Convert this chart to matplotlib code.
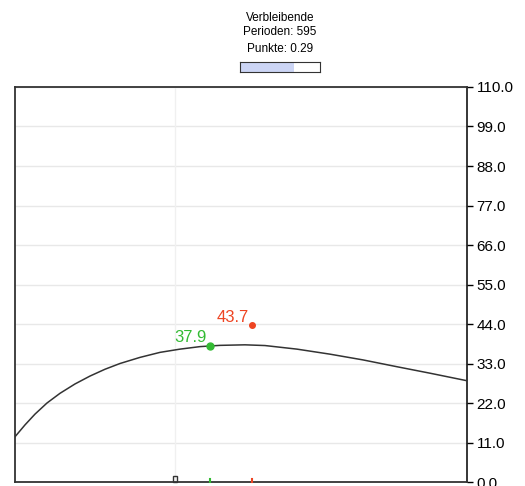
import numpy as np
import matplotlib.pyplot as plt
from matplotlib.patches import Rectangle

plt.rcParams['font.family'] = ['Liberation Sans', 'DejaVu Sans']

# Kurve (x in 0..100, y in Punkten)
kurve_x = [0, 2.21, 4.42, 7.08, 9.96, 13.27, 16.59, 19.91, 23.23, 27.65, 32.08, 36.50, 40.93,
           45.35, 50.88, 55.31, 62.39, 69.69, 76.99, 84.51, 91.81, 100]
kurve_y = [12.6, 15.9, 18.9, 22.0, 24.7, 27.3, 29.5, 31.4, 33.0, 34.7, 36.1, 37.0, 37.7,
           38.05, 38.2, 38.0, 37.0, 35.6, 34.0, 32.1, 30.3, 28.2]

gruen_x, gruen_y = 43.1, 37.9
rot_x, rot_y = 52.4, 43.7
marker_x = 35.4

y_ticks = [0, 11, 22, 33, 44, 55, 66, 77, 88, 99, 110]
perioden = 595
punkte = 0.29
fortschritt = 0.67

fig = plt.figure(figsize=(5.25, 4.86), dpi=100)
ax = fig.add_axes([15/525, 1 - 482/486, 452/525, 395/486])

ax.plot(kurve_x, kurve_y, color='#333333', lw=1.1, zorder=3)

ax.plot(gruen_x, gruen_y, 'o', color='#33bb33', ms=5, zorder=4)
ax.plot(rot_x, rot_y, 'o', color='#ee4422', ms=4, zorder=4)
ax.annotate(f'{gruen_y:.1f}', (gruen_x, gruen_y), xytext=(-2, 1), textcoords='offset points',
            ha='right', va='bottom', color='#33bb33', fontsize=12)
ax.annotate(f'{rot_y:.1f}', (rot_x, rot_y), xytext=(-2, 0), textcoords='offset points',
            ha='right', va='bottom', color='#ee4422', fontsize=12)

ax.axvline(marker_x, color='#f0f0f0', lw=1, zorder=1)
ax.add_patch(Rectangle((marker_x - 0.55, 0), 1.1, 1.7, fill=False, ec='#333333', lw=1, zorder=5, clip_on=False))
ax.plot([gruen_x, gruen_x], [0, 0.9], color='#33bb33', lw=1.5, zorder=5, clip_on=False)
ax.plot([rot_x, rot_x], [0, 0.9], color='#ee4422', lw=1.5, zorder=5, clip_on=False)

ax.set_xlim(0, 100)
ax.set_ylim(0, 110)
ax.set_xticks([])
ax.set_yticks(y_ticks)
ax.set_yticklabels([f'{v:.1f}' for v in y_ticks])
ax.yaxis.tick_right()
ax.tick_params(axis='y', labelsize=11, length=4, width=1, pad=3)
ax.grid(axis='y', color='#e8e8e8', lw=1)
ax.set_axisbelow(True)
for s in ['left', 'top', 'bottom']:
    ax.spines[s].set_color('#333333')
    ax.spines[s].set_linewidth(1.3)
ax.spines['right'].set_linewidth(1.1)

fig.text(280/525, 1 - 18/486, 'Verbleibende', ha='center', va='center', fontsize=8.5)
fig.text(280/525, 1 - 32/486, f'Perioden: {perioden}', ha='center', va='center', fontsize=8.5)
fig.text(280/525, 1 - 49/486, f'Punkte: {punkte}', ha='center', va='center', fontsize=8.5)
bar = fig.add_axes([240/525, 1 - 72/486, 80/525, 10/486])
bar.barh(0, fortschritt, height=1, color='#ccd5f5')
bar.set_xlim(0, 1)
bar.set_ylim(-0.5, 0.5)
bar.set_xticks([])
bar.set_yticks([])
for s in bar.spines.values():
    s.set_color('#333333')

fig.savefig('out.png', dpi=100)
